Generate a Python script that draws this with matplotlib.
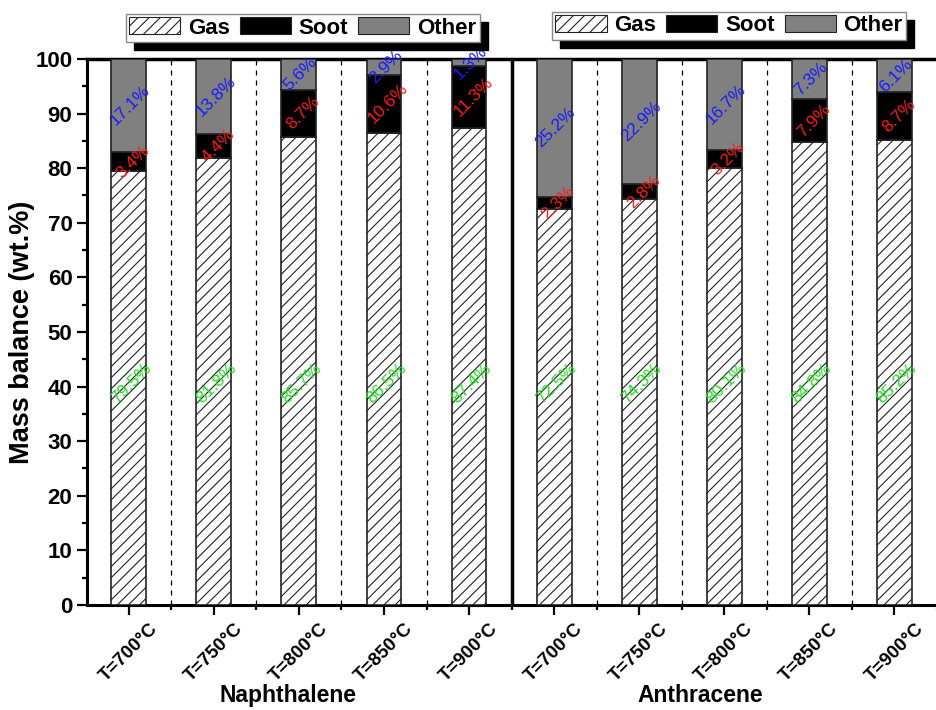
import matplotlib
matplotlib.use('Agg')
import matplotlib.pyplot as plt
import matplotlib.transforms as mtransforms
from matplotlib.patches import Patch
from matplotlib.ticker import MultipleLocator
import numpy as np

plt.rcParams['font.family'] = ['Liberation Sans', 'DejaVu Sans']
plt.rcParams['hatch.linewidth'] = 0.8

# data (wt.%)
temps = ['T=700°C', 'T=750°C', 'T=800°C', 'T=850°C', 'T=900°C']
groups = ['Naphthalene', 'Anthracene']
naph_gas = [79.5, 81.8, 85.7, 86.5, 87.4]
naph_soot = [3.4, 4.4, 8.7, 10.6, 11.3]
naph_other = [17.1, 13.8, 5.6, 2.9, 1.3]
anth_gas = [72.5, 74.3, 80.1, 84.8, 85.2]
anth_soot = [2.3, 2.8, 3.2, 7.9, 8.7]
anth_other = [25.2, 22.9, 16.7, 7.3, 6.1]

gas = np.array(naph_gas + anth_gas)
soot = np.array(naph_soot + anth_soot)
other = np.array(naph_other + anth_other)
x = np.arange(1, len(gas) + 1)

fig = plt.figure(figsize=(9.37, 7.10), dpi=100)
ax = fig.add_axes([0.0929, 0.148, 0.9071, 0.769])

w = 0.41
ec = '#222222'
ax.bar(x, gas, w, color='white', edgecolor=ec, hatch='///', linewidth=1.2, zorder=3)
ax.bar(x, soot, w, bottom=gas, color='black', edgecolor=ec, linewidth=1.2, zorder=3)
ax.bar(x, other, w, bottom=gas + soot, color='#808080', edgecolor=ec, linewidth=1.2, zorder=3)

# separators between bars
for xs in np.arange(1.5, 11, 1.0):
    if xs == 5.5:
        ax.axvline(xs, color='black', lw=2.5, zorder=4)
    else:
        ax.axvline(xs, color='black', lw=0.9, ls=(0, (4, 4)), zorder=1)

# percentage labels
lab_kw = dict(rotation=45, ha='center', va='center', fontsize=12.5, zorder=5)
for xi, g, s, o in zip(x, gas, soot, other):
    ax.text(xi + 0.03, 40.5, '%.1f%%' % g, color='#22e022', **lab_kw)
    ax.text(xi + 0.05, g + s / 2, '%.1f%%' % s, color='#ff1a1a', **lab_kw)
    ax.text(xi + 0.02, g + s + o / 2, '%.1f%%' % o, color='#1a1aff', **lab_kw)

ax.set_xlim(0.51, 10.4)
ax.set_ylim(0, 100)
ax.yaxis.set_major_locator(MultipleLocator(10))
ax.yaxis.set_minor_locator(MultipleLocator(5))
ax.set_xticks(x)
ax.set_xticks(np.arange(1.5, 11, 1.0), minor=True)
ax.set_xticklabels(temps * 2, rotation=45, fontsize=13.5, fontweight='bold')
for t in ax.get_xticklabels():
    t.set_transform(t.get_transform() + mtransforms.ScaledTranslation(-7 / 100, 0, fig.dpi_scale_trans))
ax.tick_params(axis='both', which='major', direction='out', length=7, width=1.6)
ax.tick_params(axis='x', which='major', pad=4)
ax.tick_params(axis='both', which='minor', direction='out', length=3.5, width=1.6)
for t in ax.get_yticklabels():
    t.set_fontsize(16)
    t.set_fontweight('bold')
ax.set_ylabel('Mass balance (wt.%)', fontsize=19.5, fontweight='bold', labelpad=0)

ax.spines['top'].set_linewidth(2.5)
ax.spines['left'].set_linewidth(2.2)
ax.spines['bottom'].set_linewidth(2.2)
ax.spines['right'].set_visible(False)

# group names
trans = mtransforms.blended_transform_factory(ax.transData, ax.transAxes)
ax.text(2.87, -0.165, groups[0], transform=trans, ha='center', va='center',
        fontsize=16.5, fontweight='bold')
ax.text(7.72, -0.165, groups[1], transform=trans, ha='center', va='center',
        fontsize=16.5, fontweight='bold')

# legends
handles = [Patch(facecolor='white', edgecolor=ec, hatch='///', linewidth=0.8),
           Patch(facecolor='black', edgecolor=ec, linewidth=0.8),
           Patch(facecolor='#808080', edgecolor=ec, linewidth=0.8)]
names = ['Gas', 'Soot', 'Other']
leg_kw = dict(ncol=3, loc='lower center', frameon=True, fancybox=False,
              prop={'weight': 'bold', 'size': 16}, handlelength=2.3, handleheight=0.8,
              handletextpad=0.35, columnspacing=0.45, borderpad=0.15, borderaxespad=0,
              shadow={'facecolor': 'black', 'edgecolor': 'black', 'alpha': 1, 'ox': 6, 'oy': -6})
for cx, cy in [(0.323, 0.941), (0.778, 0.944)]:
    lg = fig.legend(handles, names, bbox_to_anchor=(cx, cy), **leg_kw)
    lg.get_frame().set_edgecolor('#888888')
    lg.get_frame().set_linewidth(1.0)

fig.savefig('out.png', dpi=100)
